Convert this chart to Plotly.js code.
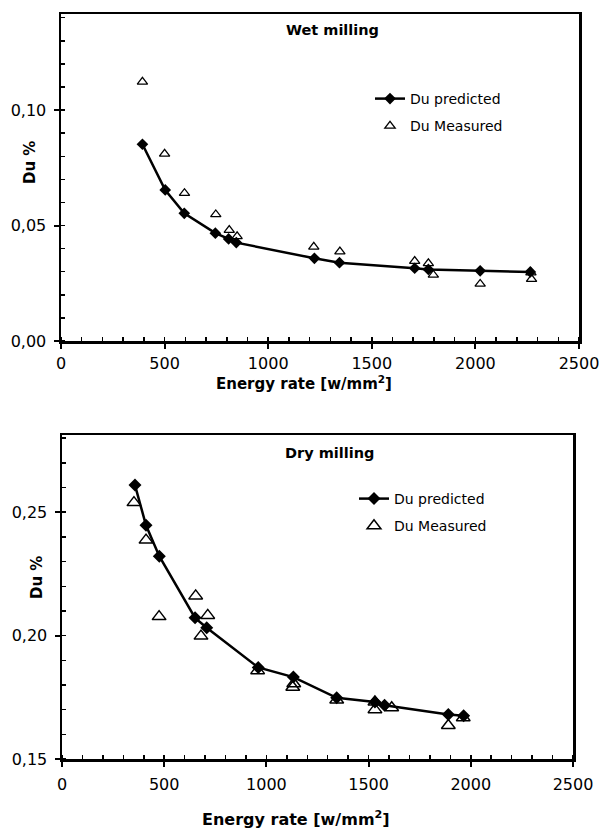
<!DOCTYPE html>
<html>
<head>
<meta charset="utf-8">
<script src="https://cdn.plot.ly/plotly-3.0.1.min.js"></script>
<style>html,body{margin:0;padding:0;background:#fff;}#chart{width:599px;height:832px;}</style>
</head>
<body>
<div id="chart"></div>
<script>
// Wet milling
const wetPredX = [393, 503, 595, 745, 809, 846, 1223, 1344, 1707, 1773, 2023, 2265];
const wetPredY = [0.0852, 0.0654, 0.0553, 0.0467, 0.0442, 0.0426, 0.0358, 0.0339, 0.0315, 0.0310, 0.0304, 0.0299];
const wetMeasX = [393, 500, 596, 747, 812, 850, 1220, 1346, 1707, 1773, 1797, 2023, 2268, 2271];
const wetMeasY = [0.1122, 0.0810, 0.0640, 0.0548, 0.0480, 0.0453, 0.0408, 0.0387, 0.0346, 0.0336, 0.0286, 0.0247, 0.0296, 0.0268];
// Dry milling
const dryPredX = [357, 411, 476, 651, 708, 960, 1132, 1344, 1531, 1578, 1890, 1965];
const dryPredY = [0.2610, 0.2447, 0.2322, 0.2072, 0.2032, 0.1871, 0.1832, 0.1748, 0.1731, 0.1718, 0.1680, 0.1675];
const dryMeasX = [352, 411, 475, 654, 713, 680, 957, 1134, 1129, 1344, 1531, 1531, 1613, 1890, 1963];
const dryMeasY = [0.2539, 0.2387, 0.2077, 0.2161, 0.2082, 0.1998, 0.1858, 0.1805, 0.1791, 0.1739, 0.1731, 0.1700, 0.1708, 0.1636, 0.1667];

const xTicks = [0, 500, 1000, 1500, 2000, 2500];
const wetYTicks = [0.00, 0.05, 0.10];
const dryYTicks = [0.15, 0.20, 0.25];

const W = 599, H = 832;
const px = v => v / W;
const py = v => 1 - v / H;

const FONT = 'DejaVu Sans, Arial, sans-serif';

function xAxis(domain, anchor, standoff) {
  return {
    domain: domain, anchor: anchor, range: [0, 2500],
    tickvals: xTicks, ticks: 'outside', ticklen: 5, tickwidth: 2, tickcolor: '#000',
    showline: true, linewidth: 2.5, linecolor: '#000', mirror: true,
    showgrid: false, zeroline: false,
    tickfont: {family: FONT, size: 16, color: '#000'},
    ticklabelstandoff: standoff, ticklabeloverflow: 'allow',
    minor: {dtick: 100, ticks: 'inside', ticklen: 4, tickwidth: 1.5, tickcolor: '#000', showgrid: false}
  };
}
function yAxis(domain, anchor, range, tv) {
  return {
    domain: domain, anchor: anchor, range: range,
    tickvals: tv, tickformat: '.2f', ticks: 'outside', ticklen: 5, tickwidth: 2, tickcolor: '#000',
    showline: true, linewidth: 2.5, linecolor: '#000', mirror: true,
    showgrid: false, zeroline: false,
    tickfont: {family: FONT, size: 16, color: '#000'},
    ticklabelstandoff: 4,
    minor: {dtick: 0.01, ticks: 'inside', ticklen: 4, tickwidth: 1.5, tickcolor: '#000', showgrid: false}
  };
}

const traces = [
  {x: wetPredX, y: wetPredY, xaxis: 'x', yaxis: 'y', name: 'Du predicted', mode: 'lines+markers',
   line: {color: '#000', width: 2.5}, marker: {symbol: 'diamond', size: 9, color: '#000'},
   legend: 'legend', legendgroup: 'a'},
  {x: wetMeasX, y: wetMeasY, xaxis: 'x', yaxis: 'y', name: 'Du Measured', mode: 'markers',
   marker: {symbol: 'triangle-up-open', size: 9, color: '#000', line: {width: 1.3}},
   legend: 'legend', legendgroup: 'b'},
  {x: dryPredX, y: dryPredY, xaxis: 'x2', yaxis: 'y2', name: 'Du predicted', mode: 'lines+markers',
   line: {color: '#000', width: 2.5}, marker: {symbol: 'diamond', size: 10, color: '#000'},
   legend: 'legend2', legendgroup: 'c'},
  {x: dryMeasX, y: dryMeasY, xaxis: 'x2', yaxis: 'y2', name: 'Du Measured', mode: 'markers',
   marker: {symbol: 'triangle-up-open', size: 12, color: '#000', line: {width: 1.5}},
   legend: 'legend2', legendgroup: 'd'}
];

const legendBase = {
  xanchor: 'left', yanchor: 'top', bgcolor: 'rgba(0,0,0,0)',
  font: {family: FONT, size: 14, color: '#000'}, itemwidth: 30,
  traceorder: 'grouped', tracegroupgap: 6
};

const layout = {
  width: W, height: H,
  margin: {l: 0, r: 0, t: 0, b: 0},
  paper_bgcolor: '#fff', plot_bgcolor: '#fff',
  separators: ', ',
  showlegend: true,
  xaxis: xAxis([px(61), px(579)], 'y', 1),
  yaxis: yAxis([py(341), py(14)], 'x', [0, 0.1416], wetYTicks),
  xaxis2: xAxis([px(62), px(573)], 'y2', 4),
  yaxis2: yAxis([py(759), py(435)], 'x2', [0.15, 0.2813], dryYTicks),
  legend: Object.assign({x: px(370), y: py(83)}, legendBase),
  legend2: Object.assign({x: px(354), y: py(483)}, legendBase),
  annotations: [
    {text: '<b>Wet milling</b>', xref: 'paper', yref: 'paper', x: px(332), y: py(30),
     xanchor: 'center', yanchor: 'middle', showarrow: false, font: {family: FONT, size: 14.5, color: '#000'}},
    {text: '<b>Dry milling</b>', xref: 'paper', yref: 'paper', x: px(329), y: py(453),
     xanchor: 'center', yanchor: 'middle', showarrow: false, font: {family: FONT, size: 14.5, color: '#000'}},
    {text: '<b>Energy rate [w/mm<sup>2</sup>]</b>', xref: 'paper', yref: 'paper', x: px(304), y: py(383),
     xanchor: 'center', yanchor: 'middle', showarrow: false, font: {family: FONT, size: 15, color: '#000'}},
    {text: '<b>Energy rate [w/mm<sup>2</sup>]</b>', xref: 'paper', yref: 'paper', x: px(296), y: py(818),
     xanchor: 'center', yanchor: 'middle', showarrow: false, font: {family: FONT, size: 16, color: '#000'}},
    {text: '<b>Du %</b>', xref: 'paper', yref: 'paper', x: px(30), y: py(163), textangle: -90,
     xanchor: 'center', yanchor: 'middle', showarrow: false, font: {family: FONT, size: 15, color: '#000'}},
    {text: '<b>Du %</b>', xref: 'paper', yref: 'paper', x: px(37), y: py(578), textangle: -90,
     xanchor: 'center', yanchor: 'middle', showarrow: false, font: {family: FONT, size: 15, color: '#000'}}
  ]
};

Plotly.newPlot('chart', traces, layout, {displayModeBar: false, staticPlot: true});
</script>
</body>
</html>
